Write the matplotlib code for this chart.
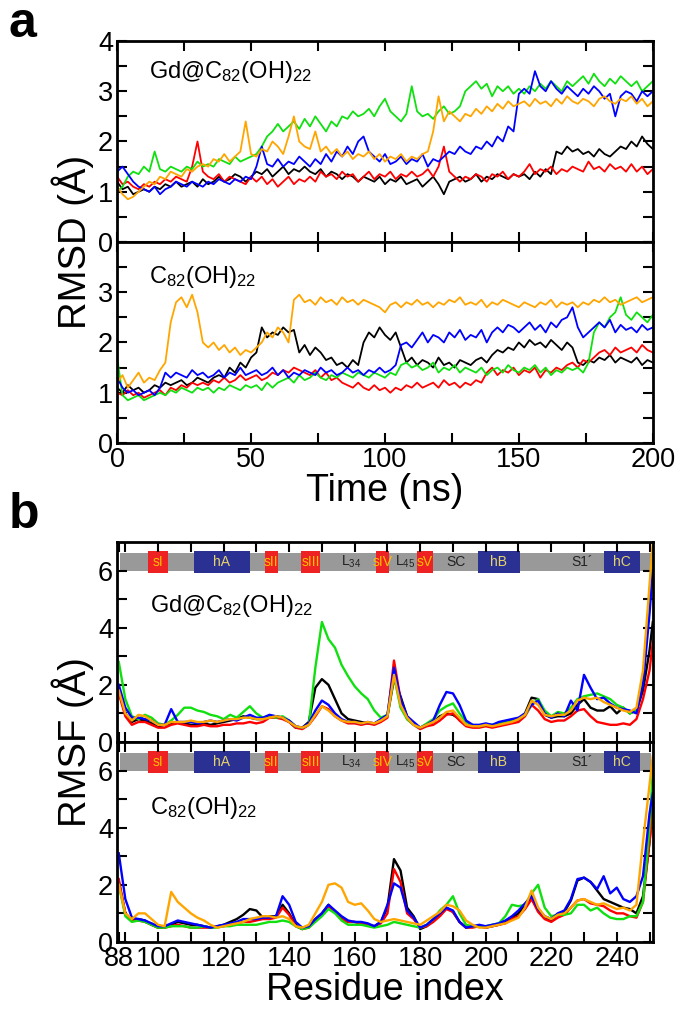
import numpy as np
import matplotlib
matplotlib.use("Agg")
import matplotlib.pyplot as plt
from matplotlib.patches import Rectangle
from matplotlib.ticker import MultipleLocator, FixedLocator

plt.rcParams['font.family'] = ['Liberation Sans', 'DejaVu Sans']
plt.rcParams['mathtext.default'] = 'regular'

# ---- panel a: RMSD vs time (every 2 ns) ----
time_ns = np.arange(0, 201, 2)

gd_rmsd_black = [1.2, 1.05, 1.1, 0.95, 1.0, 1.05,
    1.0, 1.1, 1.05, 1.15, 1.1, 1.2, 1.1, 1.15, 1.2, 1.1,
    1.25, 1.15, 1.2, 1.3, 1.2, 1.25, 1.35, 1.3, 1.2, 1.3,
    1.4, 1.35, 1.45, 1.3, 1.4, 1.5, 1.35, 1.45, 1.4, 1.5,
    1.4, 1.35, 1.45, 1.3, 1.4, 1.35, 1.25, 1.35, 1.3, 1.2,
    1.3, 1.25, 1.2, 1.3, 1.15, 1.25, 1.2, 1.3, 1.15, 1.2,
    1.25, 1.1, 1.2, 1.3, 1.15, 0.95, 1.2, 1.25, 1.3, 1.2,
    1.25, 1.35, 1.2, 1.3, 1.25, 1.35, 1.3, 1.25, 1.35, 1.3,
    1.35, 1.25, 1.4, 1.3, 1.45, 1.35, 1.8, 1.75, 1.9, 1.8,
    1.85, 1.75, 1.8, 1.7, 1.85, 1.75, 1.7, 1.8, 1.9, 1.85,
    2.0, 1.9, 2.1, 1.95, 1.85]
gd_rmsd_red = [1.3, 1.15, 1.2, 1.1, 1.05, 1.15,
    1.1, 1.2, 1.15, 1.25, 1.2, 1.3, 1.25, 1.2, 1.5, 2.0,
    1.4, 1.3, 1.25, 1.35, 1.2, 1.3, 1.25, 1.2, 1.15, 1.3,
    1.2, 1.3, 1.15, 1.25, 1.1, 1.2, 1.3, 1.15, 1.25, 1.2,
    1.3, 1.2, 1.4, 1.3, 1.35, 1.25, 1.4, 1.3, 1.35, 1.2,
    1.3, 1.4, 1.25, 1.35, 1.3, 1.4, 1.25, 1.35, 1.3, 1.4,
    1.3, 1.35, 1.45, 1.3, 1.5, 1.9, 1.4, 1.3, 1.2, 1.3,
    1.25, 1.35, 1.3, 1.2, 1.35, 1.3, 1.4, 1.25, 1.35, 1.3,
    1.4, 1.55, 1.35, 1.45, 1.4, 1.5, 1.35, 1.45, 1.4, 1.5,
    1.45, 1.4, 1.6, 1.45, 1.5, 1.4, 1.55, 1.45, 1.5, 1.4,
    1.55, 1.4, 1.5, 1.35, 1.45]
gd_rmsd_green = [1.0, 1.1, 1.3, 1.4, 1.35, 1.5,
    1.4, 1.8, 1.45, 1.4, 1.5, 1.45, 1.4, 1.5, 1.45, 1.6,
    1.5, 1.55, 1.5, 1.65, 1.6, 1.55, 1.7, 1.6, 1.65, 1.7,
    1.75, 1.9, 2.1, 2.2, 2.35, 2.2, 2.3, 2.4, 2.25, 2.45,
    2.3, 2.5, 2.35, 2.2, 2.4, 2.3, 2.5, 2.45, 2.6, 2.5,
    2.55, 2.65, 2.5, 2.7, 2.85, 2.6, 2.5, 2.4, 2.55, 3.1,
    2.6, 2.5, 2.55, 2.45, 2.6, 2.7, 2.55, 2.6, 2.7, 3.0,
    3.1, 3.2, 3.05, 3.15, 2.9, 3.1, 3.0, 3.1, 2.95, 3.05,
    2.95, 3.1, 3.0, 3.15, 3.05, 3.2, 3.1, 3.0, 3.2, 3.1,
    3.2, 3.3, 3.15, 3.35, 3.2, 3.1, 3.25, 3.15, 3.3, 3.2,
    3.1, 3.2, 3.0, 3.1, 3.2]
gd_rmsd_blue = [1.4, 1.5, 1.35, 1.2, 1.1, 1.05,
    1.0, 1.1, 0.95, 1.05, 1.1, 1.2, 1.15, 1.1, 1.2, 1.15,
    1.1, 1.2, 1.15, 1.25, 1.2, 1.15, 1.25, 1.2, 1.3, 1.25,
    1.5, 1.9, 1.55, 1.5, 1.65, 1.5, 1.6, 1.55, 1.7, 1.6,
    1.5, 1.65, 1.55, 1.75, 1.6, 1.8, 1.7, 1.9, 1.75, 2.0,
    2.1, 1.8, 1.7, 1.6, 1.75, 1.55, 1.6, 1.7, 1.55, 1.65,
    1.6, 1.75, 1.5, 1.65, 1.6, 1.7, 1.8, 1.75, 1.9, 1.8,
    1.75, 1.9, 1.85, 2.0, 1.9, 2.1, 2.0, 2.3, 2.2, 2.95,
    3.05, 2.95, 3.4, 3.1, 3.0, 3.2, 3.05, 2.95, 3.1, 3.0,
    2.9, 3.05, 2.95, 3.1, 3.0, 2.85, 2.95, 2.5, 2.9, 3.0,
    2.95, 2.8, 3.0, 2.9, 3.0]
gd_rmsd_orange = [1.1, 0.95, 0.85, 0.9, 1.0, 1.1,
    1.2, 1.15, 1.3, 1.25, 1.4, 1.35, 1.3, 1.45, 1.4, 1.5,
    1.55, 1.5, 1.65, 1.6, 1.75, 1.6, 1.7, 1.8, 2.4, 1.75,
    1.7, 1.85, 1.8, 2.0, 1.9, 1.75, 2.1, 2.5, 2.0, 1.9,
    1.85, 2.2, 1.8, 1.9, 1.75, 1.85, 1.7, 1.8, 1.65, 1.75,
    1.7, 1.8, 1.65, 1.75, 1.6, 1.7, 1.65, 1.75, 1.6, 1.7,
    1.65, 1.75, 1.8, 2.2, 2.9, 2.4, 2.6, 2.5, 2.4, 2.55,
    2.5, 2.65, 2.55, 2.7, 2.6, 2.75, 2.65, 2.8, 2.7, 2.75,
    2.8, 2.7, 2.85, 2.75, 2.8, 2.7, 2.85, 2.75, 2.9, 2.8,
    2.75, 2.85, 2.8, 2.7, 2.85, 2.9, 2.8, 2.75, 2.85, 2.8,
    2.9, 2.75, 2.85, 2.7, 2.8]

c_rmsd_black = [1.1, 1.0, 1.15, 1.05, 1.1, 1.0,
    1.05, 1.15, 1.1, 1.2, 1.15, 1.2, 1.25, 1.15, 1.2, 1.3,
    1.25, 1.2, 1.3, 1.35, 1.3, 1.5, 1.4, 1.6, 1.5, 1.7,
    1.8, 2.3, 2.1, 2.2, 2.15, 2.3, 2.2, 2.25, 1.8, 1.95,
    1.75, 1.9, 1.8, 1.65, 1.7, 1.55, 1.6, 1.5, 1.65, 1.55,
    2.0, 2.2, 2.1, 2.3, 2.15, 2.05, 2.2, 1.9, 1.6, 1.7,
    1.55, 1.65, 1.6, 1.5, 1.7, 1.55, 1.6, 1.5, 1.65, 1.6,
    1.55, 1.65, 1.7, 1.6, 1.75, 1.85, 1.8, 1.9, 1.85, 2.0,
    1.9, 2.05, 1.95, 2.0, 1.9, 2.05, 1.95, 1.85, 2.0, 1.9,
    1.6, 1.55, 1.65, 1.6, 1.7, 1.65, 1.75, 1.6, 1.7, 1.65,
    1.6, 1.7, 1.55, 1.65, 1.6]
c_rmsd_red = [1.0, 0.95, 1.05, 0.95, 1.0, 0.9,
    0.95, 1.0, 1.05, 0.95, 1.1, 1.05, 1.15, 1.1, 1.2, 1.15,
    1.2, 1.15, 1.25, 1.2, 1.3, 1.2, 1.25, 1.35, 1.25, 1.3,
    1.35, 1.25, 1.3, 1.4, 1.35, 1.45, 1.4, 1.5, 1.45, 1.4,
    1.35, 1.45, 1.3, 1.4, 1.25, 1.3, 1.2, 1.15, 1.1, 1.2,
    1.1, 1.05, 1.15, 1.05, 1.1, 1.0, 1.1, 1.05, 1.15, 1.1,
    1.2, 1.1, 1.15, 1.2, 1.1, 1.25, 1.15, 1.2, 1.1, 1.2,
    1.15, 1.25, 1.2, 1.4, 1.5, 1.35, 1.45, 1.4, 1.5, 1.35,
    1.45, 1.4, 1.5, 1.3, 1.45, 1.4, 1.5, 1.45, 1.55, 1.6,
    1.5, 1.65, 1.6, 1.7, 1.8, 1.85, 1.75, 1.9, 1.8, 1.85,
    1.9, 1.8, 1.95, 1.85, 1.8]
c_rmsd_green = [1.7, 0.95, 0.85, 0.9, 0.95, 0.85,
    0.9, 0.95, 1.0, 0.95, 1.05, 1.0, 1.1, 1.05, 1.0, 1.1,
    1.05, 1.1, 1.0, 1.1, 1.05, 1.15, 1.1, 1.05, 1.15, 1.1,
    1.15, 1.05, 1.2, 1.1, 1.2, 1.25, 1.3, 1.2, 1.35, 1.25,
    1.3, 1.4, 1.3, 1.25, 1.35, 1.3, 1.4, 1.35, 1.3, 1.4,
    1.35, 1.3, 1.4, 1.35, 1.3, 1.4, 1.35, 1.55, 1.6, 1.5,
    1.55, 1.45, 1.5, 1.6, 1.4, 1.5, 1.45, 1.55, 1.4, 1.5,
    1.45, 1.4, 1.5, 1.35, 1.45, 1.5, 1.4, 1.55, 1.45, 1.4,
    1.5, 1.45, 1.55, 1.4, 1.5, 1.35, 1.45, 1.4, 1.5, 1.45,
    1.5, 1.4, 1.6, 2.2, 2.4, 2.3, 2.5, 2.6, 2.9, 2.55,
    2.45, 2.6, 2.5, 2.4, 2.55]
c_rmsd_blue = [1.3, 1.1, 1.0, 1.05, 0.95, 1.0,
    1.05, 0.95, 1.1, 1.4, 1.3, 1.4, 1.35, 1.3, 1.45, 1.35,
    1.4, 1.3, 1.35, 1.45, 1.3, 1.4, 1.35, 1.5, 1.35, 1.4,
    1.45, 1.35, 1.4, 1.5, 1.35, 1.45, 1.3, 1.4, 1.35, 1.45,
    1.4, 1.35, 1.5, 1.4, 1.45, 1.35, 1.4, 1.5, 1.4, 1.45,
    1.35, 1.45, 1.4, 1.5, 1.4, 1.45, 1.55, 1.95, 2.0, 1.9,
    2.05, 2.2, 2.0, 2.15, 2.1, 2.0, 2.2, 2.1, 2.25, 2.05,
    2.15, 2.1, 2.25, 2.0, 2.2, 2.3, 2.2, 2.35, 2.3, 2.2,
    2.3, 2.4, 2.25, 2.35, 2.2, 2.4, 2.3, 2.45, 2.5, 2.7,
    2.3, 2.1, 2.2, 2.3, 2.4, 2.3, 2.45, 2.2, 2.35, 2.25,
    2.3, 2.2, 2.35, 2.25, 2.3]
c_rmsd_orange = [1.2, 1.35, 1.1, 1.25, 1.4, 1.2,
    1.3, 1.25, 1.45, 1.6, 2.4, 2.8, 2.9, 2.7, 2.95, 2.6,
    2.0, 1.9, 2.0, 1.85, 1.95, 1.8, 1.9, 1.75, 1.85, 1.8,
    1.9, 2.0, 2.2, 2.1, 2.3, 2.2, 2.0, 2.85, 2.95, 2.8,
    2.85, 2.75, 2.9, 2.8, 2.85, 2.75, 2.9, 2.8, 2.85, 2.75,
    2.85, 2.8, 2.75, 2.7, 2.6, 2.75, 2.8, 2.7, 2.8, 2.75,
    2.85, 2.75, 2.8, 2.7, 2.8, 2.75, 2.85, 2.8, 2.9, 2.75,
    2.8, 2.75, 2.85, 2.7, 2.8, 2.75, 2.85, 2.8, 2.75, 2.7,
    2.8, 2.75, 2.7, 2.8, 2.75, 2.85, 2.7, 2.8, 2.75, 2.8,
    2.7, 2.8, 2.75, 2.85, 2.8, 2.9, 2.8, 2.85, 2.75, 2.8,
    2.85, 2.9, 2.8, 2.85, 2.9]

# ---- panel b: RMSF per residue (every 2 residues) ----
residue = np.r_[np.arange(88, 251, 2), 251]

gd_rmsf_black = [1.9, 1.0, 0.7, 0.8, 0.75, 0.65, 0.55, 0.6, 0.65, 0.7,
    0.65, 0.6, 0.6, 0.65, 0.6, 0.65, 0.7, 0.75, 0.8, 0.9,
    0.85, 0.8, 0.8, 0.9, 0.9, 0.85, 0.7, 0.5, 0.5, 0.7,
    1.9, 2.2, 2.0, 1.5, 1.0, 0.8, 0.75, 0.7, 0.65, 0.65,
    0.75, 0.9, 2.2, 1.6, 0.9, 0.65, 0.5, 0.6, 0.7, 0.9,
    1.0, 0.95, 0.8, 0.6, 0.55, 0.55, 0.6, 0.55, 0.6, 0.7,
    0.75, 0.8, 1.0, 1.55, 1.5, 0.95, 0.85, 0.9, 0.9, 1.0,
    1.3, 1.5, 1.2, 1.1, 1.1, 1.25, 1.0, 1.2, 1.0, 1.1,
    1.8, 3.2, 4.2]
gd_rmsf_red = [1.7, 0.9, 0.6, 0.7, 0.7, 0.6, 0.5, 0.5, 0.6, 0.65,
    0.6, 0.55, 0.55, 0.6, 0.55, 0.55, 0.6, 0.6, 0.65, 0.65,
    0.7, 0.65, 0.7, 0.85, 0.85, 0.8, 0.7, 0.5, 0.45, 0.6,
    0.9, 1.25, 1.15, 0.9, 0.75, 0.65, 0.65, 0.6, 0.65, 0.6,
    0.7, 0.85, 2.85, 1.5, 0.8, 0.6, 0.45, 0.55, 0.6, 0.75,
    0.95, 1.0, 0.75, 0.55, 0.5, 0.5, 0.55, 0.5, 0.55, 0.6,
    0.65, 0.7, 0.9, 1.3, 1.1, 0.8, 0.7, 0.75, 0.75, 0.9,
    1.1, 1.15, 0.9, 0.7, 0.65, 0.6, 0.6, 0.65, 0.6, 0.8,
    1.5, 2.5, 3.5]
gd_rmsf_green = [2.8, 1.5, 0.9, 0.8, 0.95, 0.85, 0.65, 0.6, 0.75, 0.95,
    1.2, 1.2, 1.1, 1.05, 0.95, 0.9, 0.8, 0.95, 0.85, 1.05,
    1.25, 1.0, 0.85, 0.9, 0.85, 0.9, 0.75, 0.55, 0.5, 0.6,
    2.6, 4.2, 3.6, 3.3, 2.7, 2.3, 1.95, 1.7, 1.5, 1.1,
    0.85, 0.95, 2.3, 1.2, 0.8, 0.6, 0.5, 0.65, 0.8, 1.1,
    1.25, 1.35, 1.0, 0.7, 0.6, 0.55, 0.6, 0.6, 0.65, 0.7,
    0.75, 0.8, 0.95, 1.3, 1.5, 1.1, 0.9, 1.05, 1.0, 1.2,
    1.5, 1.6, 1.65, 1.7, 1.6, 1.5, 1.3, 1.2, 1.0, 1.1,
    2.2, 5.0, 6.8]
gd_rmsf_blue = [2.0, 1.2, 0.85, 0.85, 0.8, 0.75, 0.6, 0.6, 1.15, 0.7,
    0.7, 0.7, 0.65, 0.7, 0.75, 0.7, 0.75, 0.8, 0.75, 0.85,
    0.95, 0.85, 0.85, 0.95, 0.9, 0.85, 0.75, 0.55, 0.5, 0.65,
    1.1, 1.45, 1.3, 1.0, 0.8, 0.7, 0.7, 0.65, 0.7, 0.65,
    0.8, 0.95, 2.6, 1.5, 0.9, 0.7, 0.5, 0.6, 0.75, 1.3,
    1.75, 1.7, 1.3, 0.75, 0.6, 0.6, 0.65, 0.6, 0.7, 0.75,
    0.8, 0.85, 1.0, 1.3, 1.45, 1.0, 0.85, 1.0, 0.9, 1.45,
    1.1, 2.35, 1.9, 1.5, 1.55, 1.35, 1.2, 1.15, 1.1, 1.0,
    2.0, 4.5, 6.0]
gd_rmsf_orange = [1.8, 1.0, 0.75, 0.95, 0.9, 0.75, 0.6, 0.6, 0.7, 0.7,
    0.7, 0.75, 0.7, 0.7, 0.75, 0.7, 0.75, 0.8, 0.8, 0.85,
    0.85, 0.8, 0.8, 0.85, 0.9, 0.85, 0.7, 0.55, 0.5, 0.6,
    0.95, 1.25, 1.1, 0.9, 0.75, 0.7, 0.7, 0.65, 0.7, 0.65,
    0.75, 0.9, 2.35, 1.3, 0.85, 0.6, 0.5, 0.6, 0.7, 0.85,
    1.05, 1.1, 0.85, 0.6, 0.55, 0.55, 0.6, 0.55, 0.6, 0.65,
    0.7, 0.8, 0.95, 1.45, 1.3, 0.95, 0.9, 0.95, 0.95, 1.1,
    1.45, 1.55, 1.5, 1.55, 1.4, 1.3, 1.2, 1.1, 1.05, 1.2,
    2.5, 5.5, 7.0]

c_rmsf_black = [2.1, 1.0, 0.75, 0.8, 0.75, 0.6, 0.5, 0.5, 0.6, 0.7,
    0.65, 0.6, 0.6, 0.55, 0.5, 0.55, 0.6, 0.7, 0.8, 0.95,
    1.15, 1.1, 0.85, 0.9, 0.9, 1.3, 1.0, 0.6, 0.45, 0.55,
    0.8, 1.0, 1.3, 1.05, 0.8, 0.7, 0.7, 0.65, 0.6, 0.55,
    0.7, 1.2, 2.9, 2.5, 1.2, 0.9, 0.45, 0.55, 0.75, 0.95,
    1.2, 1.05, 0.7, 0.5, 0.55, 0.55, 0.5, 0.55, 0.6, 0.7,
    0.85, 1.0, 1.3, 1.55, 1.1, 0.85, 0.75, 0.95, 1.05, 1.45,
    2.15, 2.25, 2.1, 1.8, 1.5, 1.4, 1.3, 1.2, 1.15, 1.0,
    1.6, 3.5, 5.0]
c_rmsf_red = [2.2, 1.0, 0.75, 0.75, 0.7, 0.6, 0.5, 0.5, 0.55, 0.6,
    0.55, 0.5, 0.5, 0.5, 0.5, 0.55, 0.55, 0.6, 0.65, 0.7,
    0.7, 0.75, 0.8, 0.8, 0.85, 1.2, 0.95, 0.55, 0.45, 0.5,
    0.75, 1.0, 1.25, 1.05, 0.8, 0.7, 0.7, 0.65, 0.6, 0.55,
    0.65, 1.0, 2.55, 2.1, 1.0, 0.8, 0.5, 0.55, 0.7, 0.9,
    1.15, 1.05, 0.7, 0.5, 0.5, 0.55, 0.5, 0.55, 0.6, 0.65,
    0.8, 0.9, 1.15, 1.5, 1.05, 0.8, 0.7, 0.85, 0.95, 1.2,
    1.45, 1.5, 1.35, 1.3, 1.25, 1.1, 1.0, 1.0, 0.9, 0.85,
    1.4, 3.5, 4.5]
c_rmsf_green = [2.0, 0.9, 0.7, 0.75, 0.7, 0.6, 0.5, 0.5, 0.55, 0.55,
    0.55, 0.5, 0.5, 0.55, 0.5, 0.5, 0.55, 0.55, 0.6, 0.6,
    0.6, 0.6, 0.65, 0.7, 0.7, 0.75, 0.7, 0.55, 0.45, 0.5,
    0.7, 0.9, 1.15, 1.0, 0.75, 0.6, 0.6, 0.6, 0.55, 0.5,
    0.55, 0.6, 0.7, 0.65, 0.6, 0.55, 0.5, 0.6, 0.8, 1.1,
    1.3, 1.6, 1.0, 0.6, 0.55, 0.55, 0.55, 0.6, 0.65, 0.9,
    1.3, 1.25, 1.3, 1.7, 2.0, 1.2, 0.9, 0.95, 0.95, 1.0,
    1.3, 1.3, 1.1, 1.2, 1.0, 0.85, 0.8, 0.8, 0.9, 0.9,
    1.4, 4.0, 6.0]
c_rmsf_blue = [3.1, 1.5, 0.85, 0.8, 0.75, 0.65, 0.55, 0.55, 0.65, 0.75,
    0.7, 0.65, 0.6, 0.55, 0.5, 0.55, 0.6, 0.65, 0.7, 0.8,
    0.8, 0.8, 0.85, 0.85, 0.9, 1.6, 1.3, 0.7, 0.5, 0.55,
    0.8, 1.0, 1.3, 1.1, 0.9, 0.75, 0.7, 0.7, 0.65, 0.55,
    0.7, 1.3, 2.05, 1.9, 1.1, 0.85, 0.5, 0.6, 0.8, 1.0,
    1.2, 1.1, 0.7, 0.5, 0.55, 0.6, 0.55, 0.6, 0.65, 0.75,
    0.9, 1.1, 1.35, 1.6, 1.15, 0.9, 0.8, 1.0, 1.1, 1.5,
    2.2, 2.25, 2.1, 1.85, 2.3, 1.7, 1.9, 1.5, 1.4, 1.6,
    2.3, 4.5, 5.2]
c_rmsf_orange = [2.0, 1.0, 0.8, 1.0, 1.0, 0.8, 0.6, 0.55, 1.75, 1.4,
    1.2, 1.0, 0.85, 0.75, 0.6, 0.5, 0.55, 0.6, 0.65, 0.7,
    0.8, 0.85, 0.9, 0.9, 0.85, 0.9, 0.8, 0.55, 0.5, 0.6,
    1.0, 1.4, 2.0, 2.05, 1.9, 1.4, 1.3, 1.35, 1.1, 0.8,
    0.7, 0.75, 0.8, 0.75, 0.7, 0.65, 0.6, 0.75, 0.9, 1.05,
    1.3, 1.25, 1.1, 0.75, 0.6, 0.5, 0.5, 0.55, 0.6, 0.65,
    0.75, 0.85, 1.2, 1.8, 1.2, 0.9, 0.8, 0.95, 1.0, 1.2,
    1.45, 1.5, 1.4, 1.3, 1.35, 1.25, 1.15, 1.2, 1.1, 1.3,
    3.5, 5.5, 6.5]

# secondary structure bar
seg_names = ['sI', 'hA', 'sII', 'sIII', 'sIV', 'sV', 'hB', 'hC']
seg_start = [97, 111, 132.5, 143.5, 166.5, 179, 197.5, 236]
seg_end = [103, 128, 136.5, 149.5, 170.5, 184, 210.5, 247]
seg_kind = ['s', 'h', 's', 's', 's', 's', 'h', 'h']
loop_names = ['L$_{34}$', 'L$_{45}$', 'SC', 'S1\u00b4']
loop_pos = [159, 175.5, 191, 229.5]

col = {'black': '#000000', 'red': '#ff0000', 'green': '#10e010',
       'blue': '#0000ff', 'orange': '#ffa500'}
order = ['black', 'red', 'green', 'blue', 'orange']

gd_rmsd = dict(black=gd_rmsd_black, red=gd_rmsd_red, green=gd_rmsd_green,
               blue=gd_rmsd_blue, orange=gd_rmsd_orange)
c_rmsd = dict(black=c_rmsd_black, red=c_rmsd_red, green=c_rmsd_green,
              blue=c_rmsd_blue, orange=c_rmsd_orange)
gd_rmsf = dict(black=gd_rmsf_black, red=gd_rmsf_red, green=gd_rmsf_green,
               blue=gd_rmsf_blue, orange=gd_rmsf_orange)
c_rmsf = dict(black=c_rmsf_black, red=c_rmsf_red, green=c_rmsf_green,
              blue=c_rmsf_blue, orange=c_rmsf_orange)

fig = plt.figure(figsize=(6.85, 10.15), dpi=100)
L, W = 0.171, 0.782
axa1 = fig.add_axes([L, 0.7616, W, 0.198])
axa2 = fig.add_axes([L, 0.5636, W, 0.198])
axb1 = fig.add_axes([L, 0.269, W, 0.197])
axb2 = fig.add_axes([L, 0.072, W, 0.197])


def style(ax):
    for s in ax.spines.values():
        s.set_linewidth(2)
    ax.tick_params(which='both', direction='in', top=True, right=True,
                   width=1.5, length=7, labelsize=19.5, pad=3)


# panel a
for ax, data in [(axa1, gd_rmsd), (axa2, c_rmsd)]:
    for c in order:
        ax.plot(time_ns, data[c], color=col[c], lw=1.3)
    ax.set_xlim(0, 200)
    ax.set_ylim(0, 4)
    ax.xaxis.set_major_locator(MultipleLocator(50))
    ax.xaxis.set_minor_locator(MultipleLocator(25))
    ax.yaxis.set_major_locator(MultipleLocator(1))
    ax.yaxis.set_minor_locator(MultipleLocator(0.5))
    style(ax)
axa1.tick_params(labelbottom=False)
axa2.set_yticks([0, 1, 2, 3, 4], ['0', '1', '2', '3', ''])
axa1.text(12, 3.38, 'Gd@C$_{82}$(OH)$_{22}$', fontsize=17, va='center')
axa2.text(12, 3.3, 'C$_{82}$(OH)$_{22}$', fontsize=17, va='center')
axa2.set_xlabel('Time (ns)', fontsize=27, labelpad=0)

# panel b
for ax, data in [(axb1, gd_rmsf), (axb2, c_rmsf)]:
    ax.add_patch(Rectangle((88.4, 6.0), 250.6 - 88.4, 0.62,
                           facecolor='#999999', edgecolor='none', zorder=1))
    for name, a, b, k in zip(seg_names, seg_start, seg_end, seg_kind):
        fc = '#ee2222' if k == 's' else '#2b3192'
        tc = '#ffbf00' if k == 's' else '#e6d36a'
        ax.add_patch(Rectangle((a, 5.93), b - a, 0.76, facecolor=fc,
                               edgecolor='none', zorder=1.5))
        ax.text((a + b) / 2, 6.31, name, color=tc, fontsize=10,
                ha='center', va='center', zorder=1.6)
    for name, p in zip(loop_names, loop_pos):
        ax.text(p, 6.31, name, color='#222222', fontsize=10,
                ha='center', va='center', zorder=1.6)
    for c in order:
        ax.plot(residue, data[c], color=col[c], lw=1.7, zorder=2)
    ax.set_xlim(87.5, 251)
    ax.set_ylim(0, 7)
    ax.xaxis.set_major_locator(FixedLocator([88] + list(range(100, 241, 20))))
    ax.xaxis.set_minor_locator(FixedLocator(list(range(90, 251, 20))))
    ax.yaxis.set_major_locator(FixedLocator([0, 2, 4, 6]))
    ax.yaxis.set_minor_locator(FixedLocator([1, 3, 5]))
    style(ax)
axb1.tick_params(labelbottom=False)
axb1.text(97.5, 4.75, 'Gd@C$_{82}$(OH)$_{22}$', fontsize=17, va='center')
axb2.text(97.5, 4.7, 'C$_{82}$(OH)$_{22}$', fontsize=17, va='center')
axb2.set_xlabel('Residue index', fontsize=27, labelpad=0)

fig.text(0.1066, 0.7616, 'RMSD (\u00c5)', rotation=90, fontsize=27.5,
         ha='center', va='center')
fig.text(0.1066, 0.269, 'RMSF (\u00c5)', rotation=90, fontsize=27.5,
         ha='center', va='center')
fig.text(0.012, 0.999, 'a', fontsize=36, fontweight='bold', va='top')
fig.text(0.012, 0.5155, 'b', fontsize=36, fontweight='bold', va='top')

fig.savefig('out.png', dpi=100)
